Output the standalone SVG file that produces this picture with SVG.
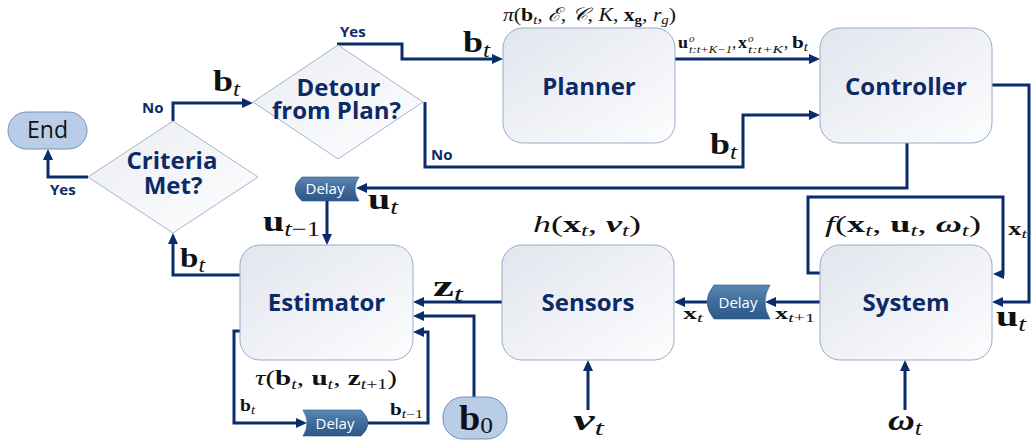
<svg xmlns="http://www.w3.org/2000/svg" width="1033" height="441" viewBox="0 0 1033 441">
  <style>
    .box { fill: url(#boxFill); stroke: #97acc9; stroke-width: 1; }
    .dia { fill: url(#diaFill); stroke: #a3b5cf; stroke-width: 1; }
    .pill { fill: #b9cde6; stroke: #7190bd; stroke-width: 1; }
    .delay { fill: url(#delayFill); stroke: #2c5584; stroke-width: 0.6; }
    .lbl { font-family: "Open Sans", "Liberation Sans", sans-serif; font-weight: bold; font-size: 24px; fill: #0c2a66; text-anchor: middle; }
    .yn { font-family: "Open Sans", "Liberation Sans", sans-serif; font-weight: bold; font-size: 15px; fill: #0c2a66; }
    .dl { font-family: "Open Sans", "Liberation Sans", sans-serif; font-size: 15px; fill: #ffffff; text-anchor: middle; }
    .m { font-family: "Liberation Serif", "DejaVu Serif", serif; fill: #111111; }
    .b { font-weight: bold; }
    .i { font-style: italic; }
    .wire { fill: none; stroke: #0b2c6b; stroke-width: 3; stroke-linejoin: miter; }
    .arr { marker-end: url(#head); }
  </style>
  <defs>
    <linearGradient id="boxFill" x1="0" y1="0" x2="1" y2="1">
      <stop offset="0" stop-color="#e1e5ed"/>
      <stop offset="1" stop-color="#fdfdfe"/>
    </linearGradient>
    <linearGradient id="diaFill" x1="0" y1="0" x2="1" y2="1">
      <stop offset="0" stop-color="#e9ecf2"/>
      <stop offset="1" stop-color="#ffffff"/>
    </linearGradient>
    <linearGradient id="delayFill" x1="0" y1="0" x2="0" y2="1">
      <stop offset="0" stop-color="#5a87b4"/>
      <stop offset="0.5" stop-color="#3f6c9b"/>
      <stop offset="1" stop-color="#2d5786"/>
    </linearGradient>
    <marker id="head" viewBox="0 0 11 10" refX="4" refY="5" markerWidth="11" markerHeight="10" markerUnits="userSpaceOnUse" orient="auto">
      <path d="M0,0 L11,5 L0,10 z" fill="#0b2c6b"/>
    </marker>
  </defs>

  <!-- connectors -->
  <g id="connectors">
    <path class="wire arr" d="M675,59 H813"/>
    <path class="wire arr" d="M337,44 H402 V59 H496"/>
    <path class="wire arr" d="M425,102 V167 H743 V115 H813"/>
    <path class="wire arr" d="M173,121 V103 H246"/>
    <path class="wire arr" d="M88,177 H48 V156"/>
    <path class="wire arr" d="M907,143 V188 H363"/>
    <path class="wire arr" d="M327,201 V238"/>
    <path class="wire arr" d="M992,85 H1029 V302 H999"/>
    <path class="wire arr" d="M820,273 H808 V197 H1003 V274 H1000"/>
    <path class="wire arr" d="M820,302 H772"/>
    <path class="wire arr" d="M707,302 H681"/>
    <path class="wire arr" d="M502,302 H420"/>
    <path class="wire arr" d="M474,397 V316 H420"/>
    <path class="wire arr" d="M240,331 H234 V423 H300"/>
    <path class="wire arr" d="M368,423 H428 V332 H420"/>
    <path class="wire arr" d="M240,275 H173 V240"/>
    <path class="wire arr" d="M588,410 V367"/>
    <path class="wire arr" d="M905,410 V367"/>
  </g>

  <!-- process blocks -->
  <g id="planner">
    <rect class="box" x="503" y="28" width="172" height="115" rx="20"/>
    <text class="lbl" x="589" y="95">Planner</text>
  </g>
  <g id="controller">
    <rect class="box" x="820" y="28" width="172" height="115" rx="20"/>
    <text class="lbl" x="906" y="95">Controller</text>
  </g>
  <g id="estimator">
    <rect class="box" x="240" y="245" width="173" height="115" rx="20"/>
    <text class="lbl" x="326.5" y="311">Estimator</text>
  </g>
  <g id="sensors">
    <rect class="box" x="502" y="245" width="172" height="115" rx="20"/>
    <text class="lbl" x="588" y="311">Sensors</text>
  </g>
  <g id="system">
    <rect class="box" x="820" y="245" width="172" height="115" rx="20"/>
    <text class="lbl" x="906" y="311">System</text>
  </g>

  <!-- decisions -->
  <g id="detour">
    <polygon class="dia" points="338,45 423,102 338,159 253,102"/>
    <text class="lbl" x="338.5" y="96">Detour</text>
    <text class="lbl" x="336.5" y="119">from Plan?</text>
  </g>
  <g id="criteria">
    <polygon class="dia" points="173,121 258,177 173,233 88,177"/>
    <text class="lbl" x="172" y="169">Criteria</text>
    <text class="lbl" x="173" y="194">Met?</text>
  </g>

  <!-- terminals -->
  <g id="end">
    <rect class="pill" x="8" y="112" width="79" height="37" rx="18.5"/>
    <text x="47.5" y="138" font-family="Open Sans, Liberation Sans, sans-serif" font-size="23" fill="#111111" text-anchor="middle">End</text>
  </g>
  <g id="b0">
    <rect class="pill" x="443" y="397" width="64" height="42" rx="20"/>
    <text class="m" x="459" y="430" font-size="36" textLength="34" lengthAdjust="spacingAndGlyphs"><tspan class="b">b</tspan><tspan font-size="24" dy="3">0</tspan></text>
  </g>

  <!-- delay elements -->
  <g id="delay-u">
    <path class="delay" d="M302,177 H359 Q351,189 359,201 H302 Q288,189 302,177 Z"/>
    <text class="dl" x="325" y="194">Delay</text>
  </g>
  <g id="delay-x">
    <path class="delay" d="M714,285 H770 Q760,302 770,319 H714 Q700,302 714,285 Z"/>
    <text class="dl" x="738" y="308" font-size="16">Delay</text>
  </g>
  <g id="delay-b">
    <path class="delay" d="M303,410 H361 Q375,423 361,436 H303 Q311,423 303,410 Z"/>
    <text class="dl" x="335" y="429" font-size="17">Delay</text>
  </g>

  <!-- branch labels -->
  <g id="branch-labels">
    <text class="yn" x="340" y="37">Yes</text>
    <text class="yn" x="142" y="113">No</text>
    <text class="yn" x="50" y="195">Yes</text>
    <text class="yn" x="431" y="160">No</text>
  </g>

  <!-- signal labels -->
  <g id="signals">
    <text class="m" x="503" y="21" font-size="19" textLength="173" lengthAdjust="spacingAndGlyphs"><tspan class="i">π</tspan>(<tspan class="b">b</tspan><tspan class="i" font-size="13" dy="3">t</tspan><tspan dy="-3">, </tspan><tspan class="i">ℰ</tspan>, <tspan class="i">𝒞</tspan>, <tspan class="i">K</tspan>, <tspan class="b">x</tspan><tspan class="b" font-size="13" dy="3">g</tspan><tspan dy="-3">, </tspan><tspan class="i">r</tspan><tspan class="i" font-size="13" dy="3">g</tspan><tspan dy="-3">)</tspan></text>

    <!-- planned trajectory passed to the controller -->
    <text class="m b" x="678" y="48" font-size="17" textLength="10" lengthAdjust="spacingAndGlyphs">u</text>
    <text class="m i" x="689" y="42" font-size="11">o</text>
    <text class="m i" x="689" y="53" font-size="11" textLength="43" lengthAdjust="spacingAndGlyphs">t:t+K−1</text>
    <text class="m" x="732" y="48" font-size="17">,</text>
    <text class="m b" x="738" y="48" font-size="17" textLength="9" lengthAdjust="spacingAndGlyphs">x</text>
    <text class="m i" x="748" y="42" font-size="11">o</text>
    <text class="m i" x="748" y="53" font-size="11" textLength="35" lengthAdjust="spacingAndGlyphs">t:t+K</text>
    <text class="m" x="784" y="48" font-size="17">,</text>
    <text class="m" x="792" y="48" font-size="17" textLength="16" lengthAdjust="spacingAndGlyphs"><tspan class="b">b</tspan><tspan class="i" font-size="12" dy="3">t</tspan></text>

    <text class="m" x="463" y="52" font-size="30" textLength="27" lengthAdjust="spacingAndGlyphs"><tspan class="b">b</tspan><tspan class="i" font-size="21" dy="5">t</tspan></text>
    <text class="m" x="213" y="91" font-size="30" textLength="27" lengthAdjust="spacingAndGlyphs"><tspan class="b">b</tspan><tspan class="i" font-size="21" dy="5">t</tspan></text>
    <text class="m" x="710" y="154" font-size="30" textLength="27" lengthAdjust="spacingAndGlyphs"><tspan class="b">b</tspan><tspan class="i" font-size="21" dy="5">t</tspan></text>
    <text class="m" x="368" y="209" font-size="30" textLength="30" lengthAdjust="spacingAndGlyphs"><tspan class="b">u</tspan><tspan class="i" font-size="21" dy="5">t</tspan></text>
    <text class="m" x="263" y="231" font-size="30" textLength="57" lengthAdjust="spacingAndGlyphs"><tspan class="b">u</tspan><tspan class="i" font-size="21" dy="5">t</tspan><tspan font-size="21">−1</tspan></text>
    <text class="m" x="180" y="267" font-size="28" textLength="25" lengthAdjust="spacingAndGlyphs"><tspan class="b">b</tspan><tspan class="i" font-size="20" dy="5">t</tspan></text>
    <text class="m" x="433" y="296" font-size="30" textLength="30" lengthAdjust="spacingAndGlyphs"><tspan class="b">z</tspan><tspan class="i" font-size="21" dy="5">t</tspan></text>
    <text class="m" x="1008" y="235" font-size="18" textLength="19" lengthAdjust="spacingAndGlyphs"><tspan class="b">x</tspan><tspan class="i" font-size="13" dy="3">t</tspan></text>
    <text class="m" x="996" y="326" font-size="30" textLength="30" lengthAdjust="spacingAndGlyphs"><tspan class="b">u</tspan><tspan class="i" font-size="21" dy="5">t</tspan></text>

    <text class="m" x="825" y="232" font-size="24" textLength="156" lengthAdjust="spacingAndGlyphs"><tspan class="i">f</tspan>(<tspan class="b">x</tspan><tspan class="i" font-size="17" dy="4">t</tspan><tspan dy="-4">, </tspan><tspan class="b">u</tspan><tspan class="i" font-size="17" dy="4">t</tspan><tspan dy="-4">, </tspan><tspan class="b i">ω</tspan><tspan class="i" font-size="17" dy="4">t</tspan><tspan dy="-4">)</tspan></text>
    <text class="m" x="533" y="232" font-size="24" textLength="108" lengthAdjust="spacingAndGlyphs"><tspan class="i">h</tspan>(<tspan class="b">x</tspan><tspan class="i" font-size="17" dy="4">t</tspan><tspan dy="-4">, </tspan><tspan class="b i">ν</tspan><tspan class="i" font-size="17" dy="4">t</tspan><tspan dy="-4">)</tspan></text>

    <text class="m" x="683" y="319" font-size="16" textLength="20" lengthAdjust="spacingAndGlyphs"><tspan class="b">x</tspan><tspan class="i" font-size="12" dy="3">t</tspan></text>
    <text class="m" x="775" y="319" font-size="16" textLength="40" lengthAdjust="spacingAndGlyphs"><tspan class="b">x</tspan><tspan class="i" font-size="12" dy="3">t</tspan><tspan font-size="12">+1</tspan></text>

    <text class="m" x="573" y="430" font-size="30" textLength="31" lengthAdjust="spacingAndGlyphs"><tspan class="b i">ν</tspan><tspan class="i" font-size="21" dy="5">t</tspan></text>
    <text class="m" x="888" y="430" font-size="30" textLength="34" lengthAdjust="spacingAndGlyphs"><tspan class="b i">ω</tspan><tspan class="i" font-size="21" dy="5">t</tspan></text>

    <text class="m" x="255" y="385" font-size="22" textLength="142" lengthAdjust="spacingAndGlyphs"><tspan class="i">τ</tspan>(<tspan class="b">b</tspan><tspan class="i" font-size="15" dy="4">t</tspan><tspan dy="-4">, </tspan><tspan class="b">u</tspan><tspan class="i" font-size="15" dy="4">t</tspan><tspan dy="-4">, </tspan><tspan class="b">z</tspan><tspan class="i" font-size="15" dy="4">t</tspan><tspan font-size="15">+1</tspan><tspan dy="-4">)</tspan></text>

    <text class="m" x="240" y="411" font-size="16" textLength="15" lengthAdjust="spacingAndGlyphs"><tspan class="b">b</tspan><tspan class="i" font-size="12" dy="3">t</tspan></text>
    <text class="m" x="390" y="415" font-size="16" textLength="33" lengthAdjust="spacingAndGlyphs"><tspan class="b">b</tspan><tspan class="i" font-size="12" dy="3">t</tspan><tspan font-size="12">−1</tspan></text>
  </g>
</svg>
